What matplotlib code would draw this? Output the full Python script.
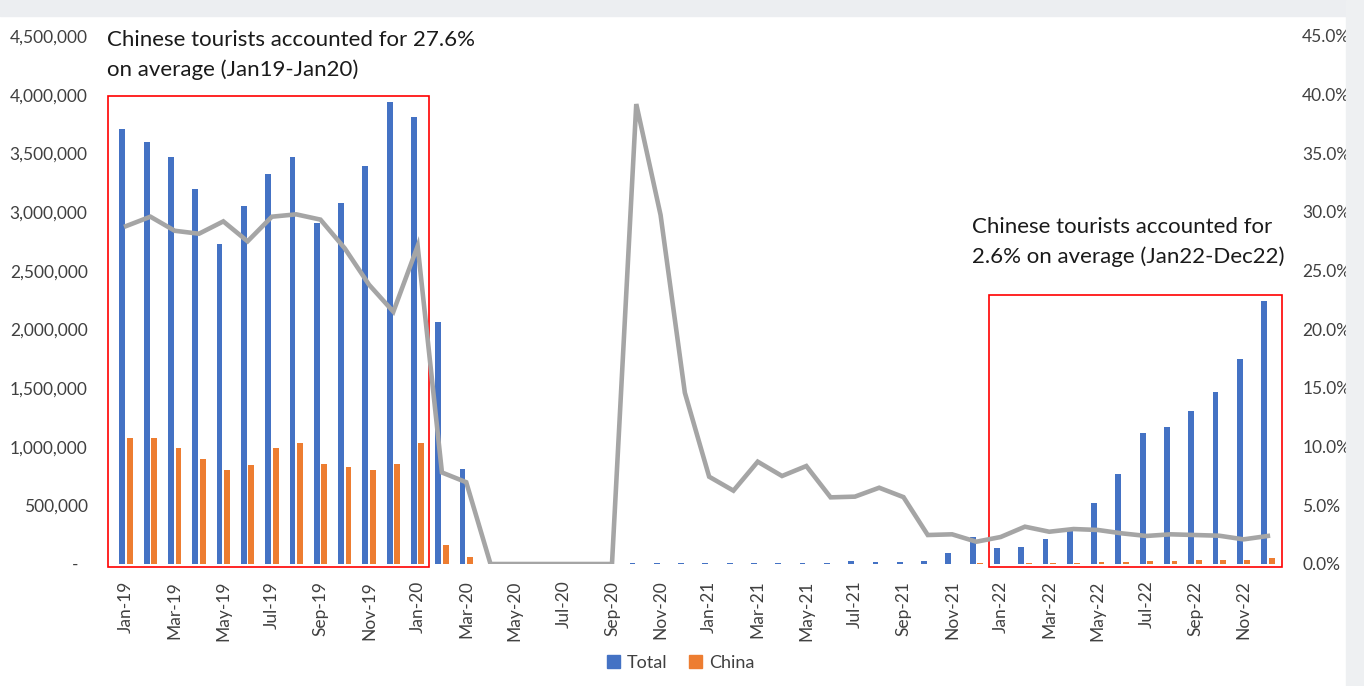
import numpy as np
import pandas as pd
import matplotlib
matplotlib.use("Agg")
import matplotlib.pyplot as plt
from matplotlib.patches import Rectangle, Patch
from matplotlib.ticker import FuncFormatter, MultipleLocator

plt.rcParams['font.family'] = ['Lato', 'DejaVu Sans']

months = pd.date_range('2019-01-01', periods=48, freq='MS').strftime('%b-%y').tolist()

total = [3710000, 3600000, 3470000, 3195000, 2726000, 3055000, 3320000, 3466000, 2905000, 3075000, 3388000, 3940000,
         3810000, 2064000, 810000, 0, 0, 0, 0, 0, 0, 6000, 5000, 6000,
         5000, 5000, 5000, 5000, 5000, 5000, 23000, 14000, 14000, 23000, 94000, 227000,
         136000, 147000, 213000, 305000, 517000, 766000, 1120000, 1169000, 1305000, 1467000, 1745000, 2238000]

china = [1070000, 1070000, 985000, 897000, 800000, 845000, 985000, 1034000, 855000, 830000, 800000, 855000,
         1034000, 165000, 57000, 0, 0, 0, 0, 0, 0, 2300, 1500, 900,
         370, 310, 440, 375, 420, 285, 1300, 900, 800, 570, 2400, 4300,
         3100, 4700, 5900, 9100, 15000, 20000, 26800, 29600, 32200, 35400, 36600, 53500]

share = [28.8, 29.6, 28.4, 28.15, 29.2, 27.5, 29.6, 29.8, 29.35, 26.9, 23.8, 21.5,
         27.1, 7.8, 6.97, 0, 0, 0, 0, 0, 0, 39.2, 29.75, 14.6,
         7.44, 6.25, 8.72, 7.5, 8.35, 5.68, 5.74, 6.5, 5.7, 2.47, 2.53, 1.9,
         2.3, 3.18, 2.75, 2.98, 2.9, 2.61, 2.39, 2.53, 2.47, 2.41, 2.1, 2.39]

note_2019 = "Chinese tourists accounted for 27.6%\non average (Jan19-Jan20)"
note_2022 = "Chinese tourists accounted for\n2.6% on average (Jan22-Dec22)"

blue = '#4472C4'
orange = '#ED7D31'
grey = '#A5A5A5'

W, H = 1364, 686
fig = plt.figure(figsize=(W / 100, H / 100), dpi=100)

# screenshot edges
fig.patches.append(Rectangle((0, 1 - 16 / H), 1, 16 / H, transform=fig.transFigure,
                             color='#eceef1', zorder=0))
fig.patches.append(Rectangle((1346 / W, 0), 18 / W, 1, transform=fig.transFigure,
                             color='#eef0f2', zorder=0))

ax = fig.add_axes([114 / W, 122 / H, (1280 - 114) / W, (564 - 36) / H])
ax2 = ax.twinx()

x = np.arange(len(months))
ax.bar(x - 0.155, total, width=0.24, color=blue, label='Total', zorder=2)
ax.bar(x + 0.155, china, width=0.24, color=orange, label='China', zorder=2)
ax2.plot(x, share, color=grey, lw=3.3, solid_joinstyle='miter', zorder=3)

ax.set_xlim(-0.5, 47.5)
ax.set_ylim(0, 4500000)
ax2.set_ylim(0, 45)
ax.yaxis.set_major_locator(MultipleLocator(500000))
ax2.yaxis.set_major_locator(MultipleLocator(5))
ax.yaxis.set_major_formatter(FuncFormatter(lambda v, p: '-  ' if v == 0 else f'{v:,.0f}'))
ax2.yaxis.set_major_formatter(FuncFormatter(lambda v, p: f'{v:.1f}%'))

ax.set_xticks(x[::2])
ax.set_xticklabels(months[::2], rotation=90)

for a in (ax, ax2):
    for s in a.spines.values():
        s.set_visible(False)
    a.tick_params(length=0, labelsize=12.5, colors='#404040')
ax.tick_params(axis='y', pad=19)
ax2.tick_params(axis='y', pad=16)
ax.tick_params(axis='x', pad=12)

# highlight boxes
ax.add_patch(Rectangle((-0.74, -25000), 13.21, 4015000, fill=False, ec='#FF0000', lw=1.2,
                       clip_on=False, zorder=4))
ax.add_patch(Rectangle((35.51, -25000), 12.09, 2315000, fill=False, ec='#FF0000', lw=1.2,
                       clip_on=False, zorder=4))

fig.text(107 / W, 1 - 30 / H, note_2019, fontsize=16, va='top', ha='left',
         color='#1a1a1a', linespacing=1.55)
fig.text(972 / W, 1 - 217 / H, note_2022, fontsize=16, va='top', ha='left',
         color='#1a1a1a', linespacing=1.55)

handles = [Patch(color=blue, label='Total'), Patch(color=orange, label='China')]
fig.legend(handles=handles, loc='center', bbox_to_anchor=(681 / W, 1 - 663 / H), ncol=2,
           frameon=False, fontsize=13, handlelength=0.7, handleheight=0.7,
           handletextpad=0.4, columnspacing=1.2, labelcolor='#404040')

fig.savefig('out.png', dpi=100, facecolor='white')
